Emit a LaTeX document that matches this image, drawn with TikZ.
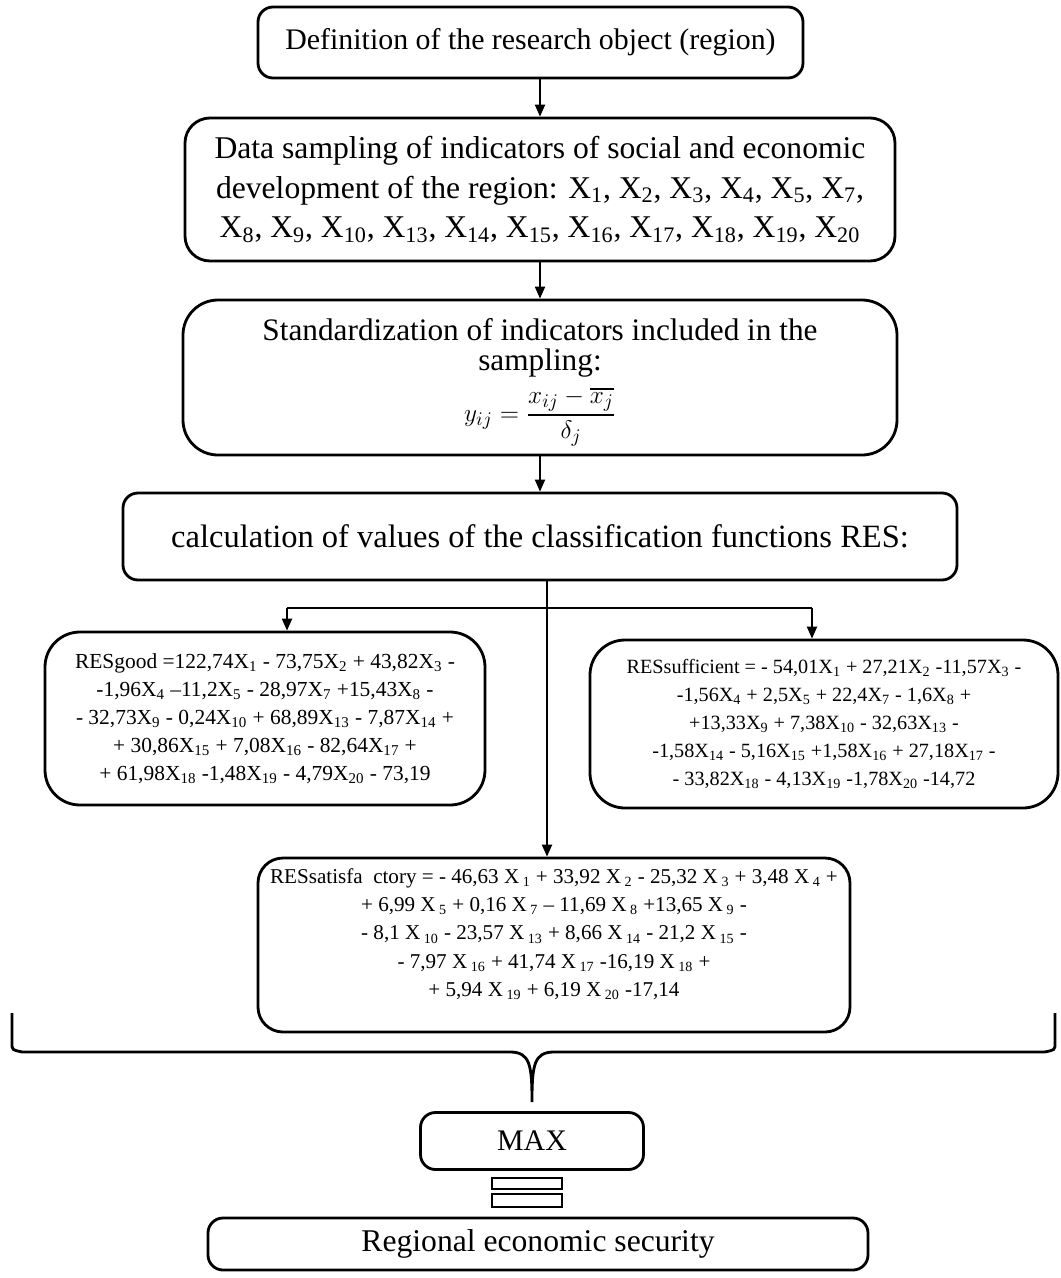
\documentclass[tikz,border=0pt]{standalone}
\usepackage{amsmath,amssymb}
\usepackage{fontspec}
\setmainfont{Liberation Serif}
\usetikzlibrary{arrows.meta}

\newcommand{\xs}[1]{X\textsubscript{#1}}
\newcommand{\xsp}[1]{X\,\textsubscript{#1}}
\newcommand{\sizeof}[1]{\fontsize{#1}{1.25\dimexpr#1pt\relax}\selectfont}
\newcommand{\eqsize}[1]{\fontsize{#1}{16}\selectfont}

\begin{document}
\begin{tikzpicture}[
		block/.style={draw,line width=1.6pt,rounded corners=#1,align=center,inner sep=0pt,font=\sizeof{17}},
		block/.default=0.3cm,
		eqblock/.style={block=0.7cm},
		arr/.style={line width=1.2pt,-{Triangle[length=0.24cm,width=0.2cm]}}
	]
		\useasboundingbox (0,0) rectangle (21.22,-25.56);
		\node[block,minimum width=10.9cm,minimum height=1.42cm] (def) at (10.61,-0.85) {Definition of the research object (region)};
		\node[block=0.5cm,minimum width=14.2cm,minimum height=2.86cm,font=\fontsize{18}{22.5}\selectfont] (samp) at (10.80,-3.79)
			{Data sampling of indicators of social and economic\\
			development of the region: \xs{1}, \xs{2}, \xs{3}, \xs{4}, \xs{5}, \xs{7},\\
			\xs{8}, \xs{9}, \xs{10}, \xs{13}, \xs{14}, \xs{15}, \xs{16}, \xs{17}, \xs{18}, \xs{19}, \xs{20}};
		\node[block=0.7cm,minimum width=14.28cm,minimum height=3.1cm,font=\fontsize{17.8}{17}\selectfont] (std) at (10.80,-7.55)
			{\rule{0pt}{18pt}Standardization of indicators included in the\\
			sampling:\\[5pt]
			{\fontsize{15}{17}\selectfont$\displaystyle y_{ij}=\frac{x_{ij}-\overline{x_j}}{\delta_j}$}};
		\node[block,minimum width=16.68cm,minimum height=1.74cm,font=\sizeof{18.5}] (calc) at (10.80,-10.73)
			{calculation of values of the classification functions RES:};
		\node[eqblock,minimum width=8.8cm,minimum height=3.46cm,font=\eqsize{12.2}] (good) at (5.30,-14.37)
			{RESgood =122,74\xs{1} - 73,75\xs{2} + 43,82\xs{3} -\\
			-1,96\xs{4} --11,2\xs{5} - 28,97\xs{7} +15,43\xs{8} -\\
			- 32,73\xs{9} - 0,24\xs{10} + 68,89\xs{13} - 7,87\xs{14} +\\
			+ 30,86\xs{15} + 7,08\xs{16} - 82,64\xs{17} +\\
			+ 61,98\xs{18} -1,48\xs{19} - 4,79\xs{20} - 73,19};
		\node[eqblock,minimum width=9.36cm,minimum height=3.36cm,font=\eqsize{11.5}] (suff) at (16.48,-14.48)
			{RESsufficient = - 54,01\xs{1} + 27,21\xs{2} -11,57\xs{3} -\\
			-1,56\xs{4} + 2,5\xs{5} + 22,4\xs{7} - 1,6\xs{8} +\\
			+13,33\xs{9} + 7,38\xs{10} - 32,63\xs{13} -\\
			-1,58\xs{14} - 5,16\xs{15} +1,58\xs{16} + 27,18\xs{17} -\\
			- 33,82\xs{18} - 4,13\xs{19} -1,78\xs{20} -14,72};
		\node[block=0.5cm,minimum width=11.84cm,minimum height=3.48cm,text depth=0.5cm,font=\eqsize{12}] (sat) at (11.08,-18.90)
			{RESsatisfa\ \ ctory = - 46,63 \xsp{1} + 33,92 \xsp{2} - 25,32 \xsp{3} + 3,48 \xsp{4} +\\
			+ 6,99 \xsp{5} + 0,16 \xsp{7} -- 11,69 \xsp{8} +13,65 \xsp{9} -\\
			- 8,1 \xsp{10} - 23,57 \xsp{13} + 8,66 \xsp{14} - 21,2 \xsp{15} -\\
			- 7,97 \xsp{16} + 41,74 \xsp{17} -16,19 \xsp{18} +\\
			+ 5,94 \xsp{19} + 6,19 \xsp{20} -17,14};
		\node[block,minimum width=4.46cm,minimum height=1.14cm] (max) at (10.64,-22.82) {MAX};
		\node[block,minimum width=13.2cm,minimum height=1.04cm,font=\sizeof{18}] (res) at (10.76,-24.88) {Regional economic security};

		\coordinate (mid) at (10.94,-12.16);
		\coordinate (lt) at (5.74,-12.16);
		\coordinate (rt) at (16.24,-12.16);

		\draw[arr] (def.south -| samp.north) -- (samp.north);
		\draw[arr] (samp.south) -- (std.north);
		\draw[arr] (std.south) -- (calc.north);
		\draw[arr] (mid |- calc.south) -- (mid |- sat.north);
		\draw[line width=1.2pt] (lt) -- (rt);
		\draw[arr] (lt) -- (lt |- good.north);
		\draw[arr] (rt) -- (rt |- suff.north);

		% brace
		\draw[line width=1.6pt] (0.24,-20.26) -- (0.24,-20.86) .. controls (0.24,-21.0) .. (0.45,-21.04) -- (10.2,-21.04)
			.. controls (10.6,-21.04) and (10.64,-21.3) .. (10.64,-22.04)
			.. controls (10.64,-21.3) and (10.68,-21.04) .. (11.08,-21.04) -- (20.89,-21.04)
			.. controls (21.10,-21.0) .. (21.10,-20.86) -- (21.10,-20.26);
		% double line
		\draw[line width=1.4pt] (9.84,-23.56) rectangle (11.24,-23.78);
		\draw[line width=1.4pt] (9.84,-23.88) rectangle (11.24,-24.14);
\end{tikzpicture}
\end{document}
